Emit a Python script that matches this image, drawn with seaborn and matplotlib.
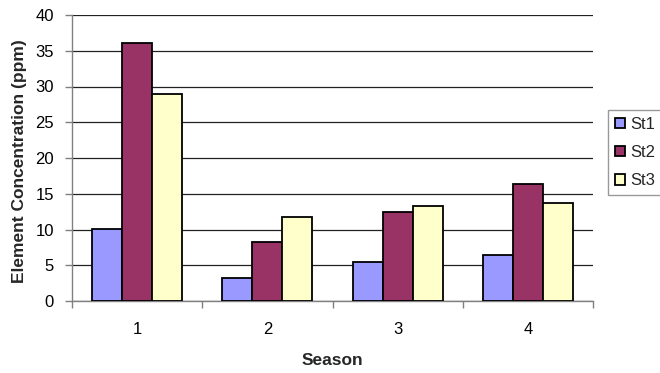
import matplotlib
matplotlib.use("Agg")
import matplotlib.pyplot as plt
import seaborn as sns
import pandas as pd
from matplotlib.ticker import FixedLocator

seasons = ["1", "2", "3", "4"]
stations = ["St1", "St2", "St3"]
st1 = [10.1, 3.2, 5.4, 6.5]
st2 = [36.1, 8.2, 12.5, 16.4]
st3 = [29.0, 11.7, 13.3, 13.7]
colors = ["#9999FF", "#993366", "#FFFFCC"]

df = pd.DataFrame({
    "Season": seasons * 3,
    "Station": [s for s in stations for _ in seasons],
    "Value": st1 + st2 + st3,
})

sns.set_theme(style="white")
plt.rcParams["font.family"] = ["Liberation Sans", "DejaVu Sans"]

fig = plt.figure(figsize=(6.6, 3.73), dpi=100)
ax = fig.add_axes([72 / 660, 1 - 301 / 373, (593 - 72) / 660, (301 - 15) / 373])

sns.barplot(data=df, x="Season", y="Value", hue="Station", palette=colors,
            width=0.69, gap=0, edgecolor="black", linewidth=1.3,
            saturation=1, ax=ax, legend=True, zorder=3)

ax.set_xlim(-0.5, 3.5)
ax.set_ylim(0, 40)
ax.set_yticks(range(0, 41, 5))
ax.yaxis.grid(True, color="#222222", linewidth=0.9, zorder=0)
ax.set_axisbelow(True)

for side in ["top", "right"]:
    ax.spines[side].set_visible(False)
for side in ["left", "bottom"]:
    ax.spines[side].set_color("#808080")
    ax.spines[side].set_linewidth(1.0)

ax.tick_params(axis="y", which="major", left=True, length=5, width=1,
               color="#808080", pad=8, labelsize=12, labelcolor="black")
ax.tick_params(axis="x", which="major", bottom=False, length=0, pad=15,
               labelsize=12, labelcolor="black")
ax.xaxis.set_minor_locator(FixedLocator([-0.5, 0.5, 1.5, 2.5, 3.5]))
ax.tick_params(axis="x", which="minor", bottom=True, length=5, width=1,
               color="#808080")

ax.set_xlabel("Season", fontsize=12.5, fontweight="bold")
ax.xaxis.set_label_coords(0.5, (301 - 353) / 286)
ax.set_ylabel("Element Concentration (ppm)", fontsize=12.5, fontweight="bold")
ax.yaxis.set_label_coords((27 - 72) / 521, 0.49)

handles, labels = ax.get_legend_handles_labels()
ax.get_legend().remove()
fig.legend(handles, labels, loc="upper left",
           bbox_to_anchor=(608 / 660, 1 - 110 / 373),
           frameon=True, fancybox=False, edgecolor="#808080",
           fontsize=12, handlelength=0.6, handleheight=0.6,
           handletextpad=0.35, borderpad=0.4, labelspacing=0.8,
           borderaxespad=0)

fig.savefig("out.png", dpi=100)
